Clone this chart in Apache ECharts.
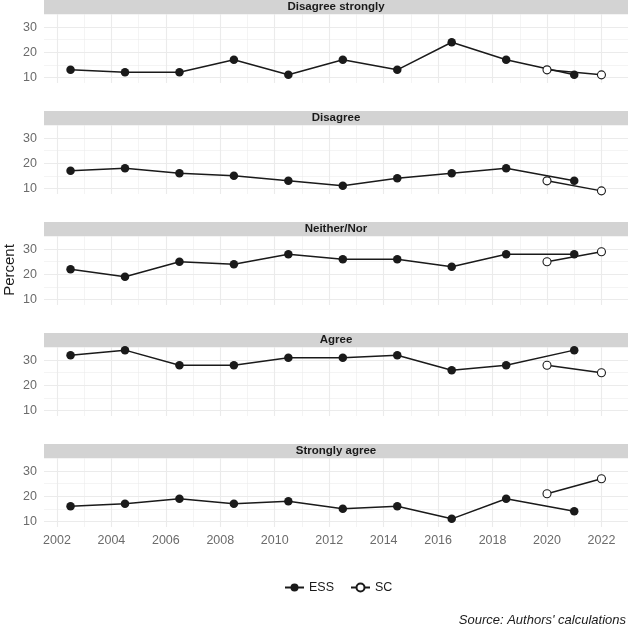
<!DOCTYPE html>
<html>
<head>
<meta charset="utf-8">
<script src="https://cdn.jsdelivr.net/npm/echarts@6/dist/echarts.min.js"></script>
<style>
html,body{margin:0;padding:0;background:#fff;}
#c{width:628px;height:627px;}
</style>
</head>
<body>
<div id="c"></div>
<script>
// ---- data ----
const facets = ['Disagree strongly', 'Disagree', 'Neither/Nor', 'Agree', 'Strongly agree'];
const essYears = [2002.5, 2004.5, 2006.5, 2008.5, 2010.5, 2012.5, 2014.5, 2016.5, 2018.5, 2021];
const scYears = [2020, 2022];
const essDisagreeStrongly = [13, 12, 12, 17, 11, 17, 13, 24, 17, 11];
const essDisagree        = [17, 18, 16, 15, 13, 11, 14, 16, 18, 13];
const essNeither         = [22, 19, 25, 24, 28, 26, 26, 23, 28, 28];
const essAgree           = [32, 34, 28, 28, 31, 31, 32, 26, 28, 34];
const essStronglyAgree   = [16, 17, 19, 17, 18, 15, 16, 11, 19, 14];
const scDisagreeStrongly = [13, 11];
const scDisagree         = [13, 9];
const scNeither          = [25, 29];
const scAgree            = [28, 25];
const scStronglyAgree    = [21, 27];
const xTickLabels = [2002, 2004, 2006, 2008, 2010, 2012, 2014, 2016, 2018, 2020, 2022];
const yTickLabels = [10, 20, 30];
const yMinor = [15, 25, 35];
const xMinor = [2003, 2005, 2007, 2009, 2011, 2013, 2015, 2017, 2019, 2021];

const essAll = [essDisagreeStrongly, essDisagree, essNeither, essAgree, essStronglyAgree];
const scAll = [scDisagreeStrongly, scDisagree, scNeither, scAgree, scStronglyAgree];

// ---- layout ----
const plotLeft = 44, plotRight = 628, stripH = 14, plotH = 69, step = 111, firstTop = 14;
const xMin = 2001.525, xMax = 2022.975, yMin = 7.75, yMax = 35.25;
const FONT = 'Liberation Sans, Arial, Helvetica, sans-serif';
const TICK_COLOR = '#6b6b6b';

const grids = [], xAxes = [], yAxes = [], series = [], graphics = [];
const majorStyle = {color: '#ebebeb', width: 1.1, type: 'solid'};
const minorStyle = {color: '#ebebeb', width: 0.55, type: 'solid'};

facets.forEach((name, i) => {
  const top = firstTop + i * step;
  grids.push({left: plotLeft, top: top, width: plotRight - plotLeft, height: plotH});
  xAxes.push({
    type: 'value', gridIndex: i, min: xMin, max: xMax,
    splitLine: {show: false}, axisLine: {show: false}, axisTick: {show: false},
    axisLabel: {show: i === facets.length - 1, customValues: xTickLabels, color: TICK_COLOR,
      fontSize: 12.5, fontFamily: FONT, margin: 7, formatter: v => String(v)}
  });
  yAxes.push({
    type: 'value', gridIndex: i, min: yMin, max: yMax,
    splitLine: {show: false}, axisLine: {show: false}, axisTick: {show: false},
    axisLabel: {customValues: yTickLabels, color: TICK_COLOR, fontSize: 12.5, fontFamily: FONT, margin: 7}
  });
  const mlData = [];
  yMinor.forEach(v => mlData.push({yAxis: v, lineStyle: minorStyle}));
  xMinor.forEach(v => mlData.push({xAxis: v, lineStyle: minorStyle}));
  yTickLabels.forEach(v => mlData.push({yAxis: v, lineStyle: majorStyle}));
  xTickLabels.forEach(v => mlData.push({xAxis: v, lineStyle: majorStyle}));
  series.push({
    type: 'line', name: 'grid' + i, xAxisIndex: i, yAxisIndex: i, z: 1,
    data: [[2010, 20]], showSymbol: false, symbol: 'none', lineStyle: {opacity: 0}, silent: true,
    markLine: {silent: true, symbol: ['none', 'none'], label: {show: false}, animation: false,
      emphasis: {disabled: true}, data: mlData}
  });
  series.push({
    type: 'line', name: 'ESS', xAxisIndex: i, yAxisIndex: i, z: 10,
    data: essYears.map((y, k) => [y, essAll[i][k]]),
    symbol: 'circle', symbolSize: 8.5, showAllSymbol: true,
    lineStyle: {color: '#1a1a1a', width: 1.5},
    itemStyle: {color: '#1a1a1a', borderColor: '#1a1a1a', borderWidth: 0}
  });
  series.push({
    type: 'line', name: 'SC', xAxisIndex: i, yAxisIndex: i, z: 11,
    data: scYears.map((y, k) => [y, scAll[i][k]]),
    symbol: 'circle', symbolSize: 8, showAllSymbol: true,
    lineStyle: {color: '#1a1a1a', width: 1.5},
    itemStyle: {color: '#ffffff', borderColor: '#1a1a1a', borderWidth: 1.1}
  });
  graphics.push({
    type: 'rect', left: plotLeft, top: top - stripH, silent: true,
    shape: {width: plotRight - plotLeft, height: stripH},
    style: {fill: '#d3d3d3'}
  });
  graphics.push({
    type: 'text', x: (plotLeft + plotRight) / 2, y: top - stripH / 2, silent: true,
    style: {text: name, fill: '#1a1a1a', font: 'bold 11.5px ' + FONT, align: 'center', verticalAlign: 'middle'}
  });
});

graphics.push({
  type: 'text', x: 10, y: 270, rotation: Math.PI / 2, silent: true,
  style: {text: 'Percent', fill: '#1a1a1a', font: '15px ' + FONT, align: 'center', verticalAlign: 'middle'}
});
graphics.push({
  type: 'text', x: 626, y: 620, silent: true,
  style: {text: "Source: Authors' calculations", fill: '#1a1a1a', font: 'italic 13px ' + FONT, align: 'right', verticalAlign: 'middle'}
});

const chart = echarts.init(document.getElementById('c'), null, {renderer: 'canvas'});
chart.setOption({
  animation: false,
  backgroundColor: '#ffffff',
  grid: grids,
  xAxis: xAxes,
  yAxis: yAxes,
  legend: {
    data: ['ESS', 'SC'], left: 279, top: 576, itemWidth: 19, itemHeight: 10, itemGap: 16,
    textStyle: {fontSize: 12.5, fontFamily: FONT, color: '#1a1a1a'}, selectedMode: false
  },
  graphic: graphics,
  series: series
});
</script>
</body>
</html>
